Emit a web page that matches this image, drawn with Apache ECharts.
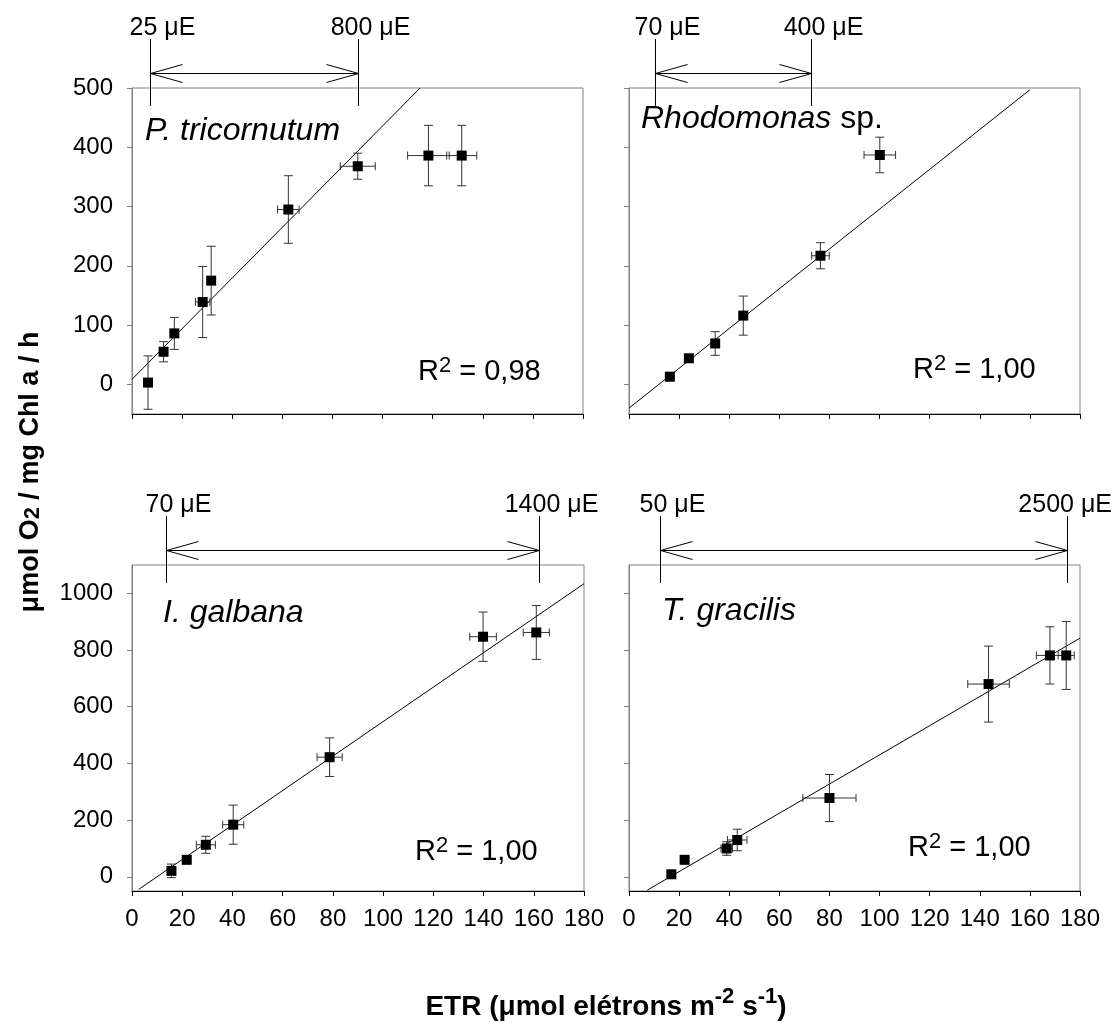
<!DOCTYPE html>
<html>
<head>
<meta charset="utf-8">
<script src="https://cdn.jsdelivr.net/npm/echarts@6/dist/echarts.min.js"></script>
<style>
    html, body {
        margin: 0;
        padding: 0;
        background: #fff;
    }

    #chart {
        width: 1116px;
        height: 1023px;
    }
</style>
</head>
<body>
<div id="chart"></div>
<script>
// P. tricornutum
const tricX = [6.4, 12.6, 16.9, 28.2, 31.6, 62.4, 90.1, 118.3, 131.6];
const tricY = [3, 55, 86, 139, 175, 295, 368, 386, 386];
const tricXErr = [0, 1.5, 0, 2.9, 1, 4.3, 7, 8.3, 6];
const tricYErr = [45, 17, 27, 60, 58, 57, 22, 51, 51];
const tricFit = [[0, 8.5], [115, 500]];

// Rhodomonas sp.
const rhodX = [16.3, 23.9, 34.4, 45.6, 76.4, 100.1];
const rhodY = [13, 44, 69, 116, 217, 387];
const rhodXErr = [1.5, 0, 0, 0, 3.5, 6.3];
const rhodYErr = [7, 0, 20, 33, 22, 30];
const rhodFit = [[0, -40], [160, 497]];

// I. galbana
const galbX = [15.7, 21.8, 29.4, 40.3, 78.7, 139.8, 161];
const galbY = [21, 60, 113, 184, 422, 847, 862];
const galbXErr = [1, 0, 3.8, 4.2, 5, 5.3, 5.2];
const galbYErr = [24, 0, 30, 69, 68, 87, 95];
const galbFit = [[2.7, -44], [180, 1034]];

// T. gracilis
const gracX = [16.9, 22.2, 39, 43.2, 80, 143.5, 168, 174.5];
const gracY = [9, 60, 100, 130, 278, 680, 781, 781];
const gracXErr = [0, 0, 2.3, 3.9, 10.6, 8.3, 5.4, 3.2];
const gracYErr = [0, 0, 24, 38, 83, 134, 101, 120];
const gracFit = [[7.3, -47], [180, 842]];

// axes
const yTicksTop = [0, 100, 200, 300, 400, 500];
const yTicksBottom = [0, 200, 400, 600, 800, 1000];

// texts
const species = ['{it|P. tricornutum}', '{it|Rhodomonas} sp.', '{it|I. galbana}', '{it|T. gracilis}'];
const r2Values = ['0,98', '1,00', '1,00', '1,00'];
const lightLimits = [[7.3, 90.3], [10.4, 72.7], [13.7, 162], [12.2, 174.7]];
const lightLabels = [['25 μE', '800 μE'], ['70 μE', '400 μE'], ['70 μE', '1400 μE'], ['50 μE', '2500 μE']];

const FONT = 'Liberation Sans, Arial, sans-serif';

const panels = [
    { xs: tricX, ys: tricY, xe: tricXErr, ye: tricYErr, fit: tricFit, yMin: -50, yMax: 500, ticks: yTicksTop,
      grid: { left: 132, top: 88, width: 451, height: 326 }, name: [145, 131], r2: [418, 372], bottomAxis: false, leftLabels: true },
    { xs: rhodX, ys: rhodY, xe: rhodXErr, ye: rhodYErr, fit: rhodFit, yMin: -50, yMax: 500, ticks: yTicksTop,
      grid: { left: 629, top: 88, width: 451, height: 326 }, name: [641, 119], r2: [913, 370], bottomAxis: false, leftLabels: false },
    { xs: galbX, ys: galbY, xe: galbXErr, ye: galbYErr, fit: galbFit, yMin: -50, yMax: 1100, ticks: yTicksBottom,
      grid: { left: 132, top: 565, width: 452, height: 326 }, name: [163, 613], r2: [415, 852], bottomAxis: true, leftLabels: true },
    { xs: gracX, ys: gracY, xe: gracXErr, ye: gracYErr, fit: gracFit, yMin: -50, yMax: 1100, ticks: yTicksBottom,
      grid: { left: 629, top: 565, width: 451, height: 326 }, name: [662, 611], r2: [908, 848], bottomAxis: true, leftLabels: false }
];

function line(x1, y1, x2, y2, color) {
    return { type: 'line', shape: { x1: x1, y1: y1, x2: x2, y2: y2 }, style: { stroke: color || '#000', lineWidth: 1 } };
}

// error bars: [x, y, xErr, yErr]
function renderErrors(params, api) {
    const x = api.value(0), y = api.value(1), xe = api.value(2), ye = api.value(3);
    const c = api.coord([x, y]);
    const children = [];
    const col = '#333';
    if (ye > 0) {
        const t = api.coord([x, y + ye]);
        const b = api.coord([x, y - ye]);
        children.push(line(c[0], t[1], c[0], b[1], col));
        children.push(line(c[0] - 4.5, t[1], c[0] + 4.5, t[1], col));
        children.push(line(c[0] - 4.5, b[1], c[0] + 4.5, b[1], col));
    }
    if (xe > 0) {
        const l = api.coord([x - xe, y]);
        const r = api.coord([x + xe, y]);
        children.push(line(l[0], c[1], r[0], c[1], col));
        children.push(line(l[0], c[1] - 4, l[0], c[1] + 4, col));
        children.push(line(r[0], c[1] - 4, r[0], c[1] + 4, col));
    }
    return { type: 'group', children: children };
}

// light range marker above each panel
function renderLight(labels) {
    return function (params, api) {
        const top = params.coordSys.y;
        const xa = Math.round(api.coord([api.value(0), 0])[0]) + 0.5;
        const xb = Math.round(api.coord([api.value(1), 0])[0]) + 0.5;
        const ya = Math.round(top - 15.5) + 0.5;
        const w = api.getWidth();
        const children = [
            line(xa, top - 49, xa, top + 18),
            line(xb, top - 49, xb, top + 18),
            line(xa, ya, xb, ya),
            { type: 'polyline', shape: { points: [[xa + 32, ya - 9], [xa, ya], [xa + 32, ya + 9]] }, style: { stroke: '#000', lineWidth: 1, fill: null } },
            { type: 'polyline', shape: { points: [[xb - 32, ya - 9], [xb, ya], [xb - 32, ya + 9]] }, style: { stroke: '#000', lineWidth: 1, fill: null } }
        ];
        [xa, xb].forEach(function (lx, i) {
            const half = labels[i].length * 6.4;
            let cx = lx + 12;
            let align = 'center';
            if (cx + half > w - 4) {
                cx = w - 4;
                align = 'right';
            }
            children.push({
                type: 'text',
                x: cx,
                y: top - 60,
                style: { text: labels[i], fill: '#000', fontSize: 25, fontFamily: FONT, align: align, verticalAlign: 'middle' }
            });
        });
        return { type: 'group', children: children };
    };
}

const option = {
    animation: false,
    grid: [],
    xAxis: [],
    yAxis: [],
    series: [],
    graphic: []
};

panels.forEach(function (p, i) {
    option.grid.push(Object.assign({ show: true, borderColor: '#808080', borderWidth: 1, containLabel: false }, p.grid));

    option.xAxis.push({
        gridIndex: i,
        type: 'value',
        min: 0,
        max: 180,
        interval: 20,
        axisLine: { onZero: false, lineStyle: { color: '#000', width: 1 } },
        axisTick: { show: true, inside: false, length: 5, lineStyle: { color: '#000' } },
        axisLabel: { show: p.bottomAxis, color: '#000', fontSize: 24, fontFamily: FONT, margin: 16,
            formatter: function (v) { return String(v); } },
        splitLine: { show: false }
    });

    option.yAxis.push({
        gridIndex: i,
        type: 'value',
        min: p.yMin,
        max: p.yMax,
        axisLine: { show: true, onZero: false, lineStyle: { color: '#808080', width: 1 } },
        axisTick: { show: true, inside: false, length: 5, customValues: p.ticks, lineStyle: { color: '#808080' } },
        axisLabel: { show: p.leftLabels, customValues: p.ticks, color: '#000', fontSize: 24, fontFamily: FONT, margin: 19,
            formatter: function (v) { return String(v); } },
        splitLine: { show: false }
    });

    option.series.push({
        type: 'line',
        xAxisIndex: i,
        yAxisIndex: i,
        data: p.fit,
        showSymbol: false,
        symbol: 'none',
        lineStyle: { color: '#000', width: 1 },
        z: 2
    });

    option.series.push({
        type: 'custom',
        xAxisIndex: i,
        yAxisIndex: i,
        renderItem: renderErrors,
        encode: { x: 0, y: 1 },
        data: p.xs.map(function (x, k) { return [x, p.ys[k], p.xe[k], p.ye[k]]; }),
        z: 3
    });

    option.series.push({
        type: 'scatter',
        xAxisIndex: i,
        yAxisIndex: i,
        symbol: 'rect',
        symbolSize: 10,
        itemStyle: { color: '#000', opacity: 1 },
        data: p.xs.map(function (x, k) { return [x, p.ys[k]]; }),
        z: 4
    });

    option.series.push({
        type: 'custom',
        xAxisIndex: i,
        yAxisIndex: i,
        clip: false,
        renderItem: renderLight(lightLabels[i]),
        encode: { x: [0, 1] },
        data: [lightLimits[i]],
        z: 5
    });

    option.graphic.push({
        type: 'text',
        x: p.name[0],
        y: p.name[1],
        style: {
            text: species[i],
            fill: '#000',
            fontSize: 32,
            fontFamily: FONT,
            align: 'left',
            verticalAlign: 'middle',
            rich: { it: { fontSize: 32, fontFamily: FONT, fontStyle: 'italic', fill: '#000' } }
        }
    });

    // superscript raised with bottom padding
    option.graphic.push({
        type: 'text',
        x: p.r2[0],
        y: p.r2[1],
        style: {
            text: '{r|R}{sup|2}{r| = ' + r2Values[i] + '}',
            fill: '#000',
            fontSize: 29,
            fontFamily: FONT,
            align: 'left',
            verticalAlign: 'middle',
            rich: {
                r: { fontSize: 29, fontFamily: FONT, fill: '#000' },
                sup: { fontSize: 22, fontFamily: FONT, fill: '#000', padding: [0, 0, 12, 0] }
            }
        }
    });
});

// axis titles
option.graphic.push({
    type: 'text',
    x: 31,
    y: 472,
    rotation: Math.PI / 2,
    style: {
        text: '{b|μmol O}{sub|2}{b| / mg Chl a / h}',
        fill: '#000',
        fontSize: 27,
        fontWeight: 'bold',
        fontFamily: FONT,
        align: 'center',
        verticalAlign: 'middle',
        rich: {
            b: { fontSize: 27, fontWeight: 'bold', fontFamily: FONT, fill: '#000' },
            sub: { fontSize: 22, fontWeight: 'bold', fontFamily: FONT, fill: '#000', padding: [4, 0, 0, 0] }
        }
    }
});

option.graphic.push({
    type: 'text',
    x: 606,
    y: 1007,
    style: {
        text: '{b|ETR (μmol elétrons m}{sup|-2}{b| s}{sup|-1}{b|)}',
        fill: '#000',
        fontSize: 28,
        fontWeight: 'bold',
        fontFamily: FONT,
        align: 'center',
        verticalAlign: 'middle',
        rich: {
            b: { fontSize: 28, fontWeight: 'bold', fontFamily: FONT, fill: '#000' },
            sup: { fontSize: 22, fontWeight: 'bold', fontFamily: FONT, fill: '#000', padding: [0, 0, 20, 0] }
        }
    }
});

const myChart = echarts.init(document.getElementById('chart'), null, { renderer: 'canvas' });
myChart.setOption(option);
</script>
</body>
</html>
